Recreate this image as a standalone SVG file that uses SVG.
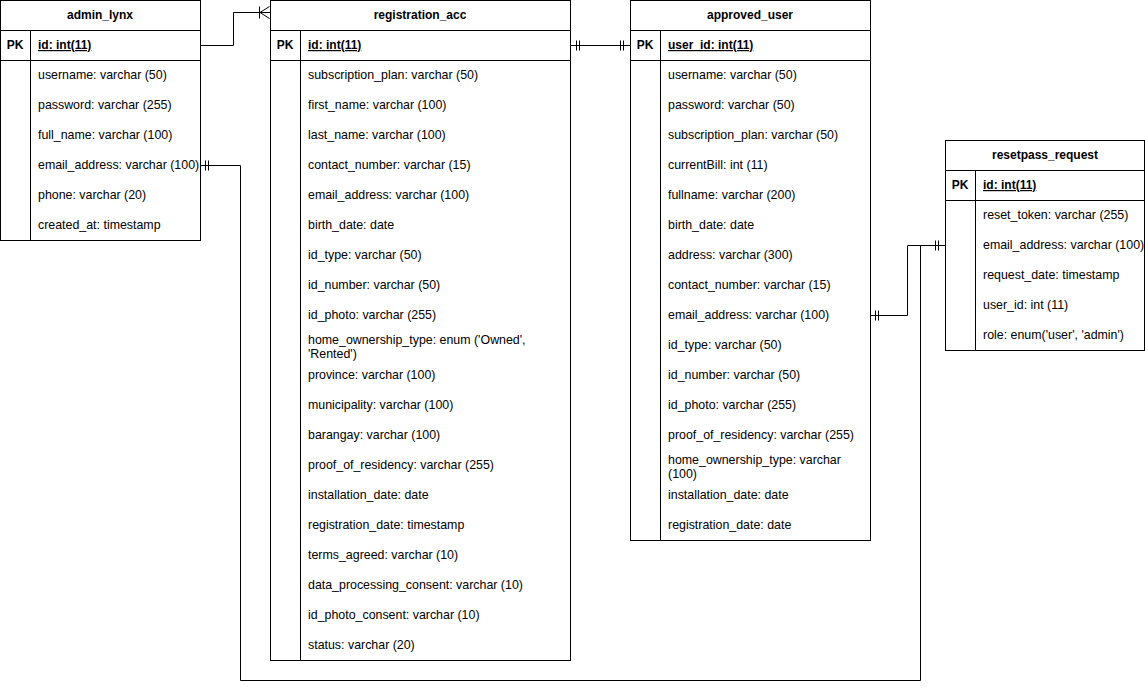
<svg xmlns="http://www.w3.org/2000/svg" width="1145" height="690" viewBox="0 0 1145 690">
<style>
.box{fill:#fff;stroke:#000;stroke-width:1}
.ln{stroke:#000;stroke-width:1;fill:none}
text{font-family:"Liberation Sans",Arial,Helvetica,sans-serif;font-size:12.4px;fill:#000}
.t{font-weight:bold;text-anchor:middle;font-size:12px}
.pk{font-weight:bold;text-anchor:middle;font-size:12px}
.id{font-weight:bold;text-decoration:underline;font-size:12px}
</style>
<rect x="0" y="0" width="1145" height="690" fill="#fff"/>
<g id="connectors" class="ln">
<path d="M200.5 45.5 H233.5 V12.5 H270"/>
<path d="M259.5 6.5 V18.5 M260 12.5 L269.5 6.5 M260 12.5 L269.5 18.5"/>
<path d="M570 45.5 H630"/>
<path d="M576.5 40.5 V50.5 M579.5 40.5 V50.5 M620.5 40.5 V50.5 M623.5 40.5 V50.5"/>
<path d="M200 165.5 H240.5 V680.5 H920.5 V245.5 H945"/>
<path d="M205.5 160.5 V170.5 M208.5 160.5 V170.5"/>
<path d="M870 315.5 H907.5 V245.5 H945"/>
<path d="M875.5 310.5 V320.5 M878.5 310.5 V320.5 M935.5 240.5 V250.5 M938.5 240.5 V250.5"/>
</g>
<g id="admin_lynx">
<rect class="box" x="0.5" y="0.5" width="200" height="240"/>
<path class="ln" d="M0.5 30.5 H200.5 M0.5 60.5 H200.5 M30.5 30.5 V240.5"/>
<text class="t" x="100" y="19">admin_lynx</text>
<text class="pk" x="15" y="49">PK</text>
<text class="id" x="38" y="49">id: int(11)</text>
<text x="38" y="79">username: varchar (50)</text>
<text x="38" y="109">password: varchar (255)</text>
<text x="38" y="139">full_name: varchar (100)</text>
<text x="38" y="169">email_address: varchar (100)</text>
<text x="38" y="199">phone: varchar (20)</text>
<text x="38" y="229">created_at: timestamp</text>
</g>
<g id="registration_acc">
<rect class="box" x="270.5" y="0.5" width="300" height="660"/>
<path class="ln" d="M270.5 30.5 H570.5 M270.5 60.5 H570.5 M300.5 30.5 V660.5"/>
<text class="t" x="420" y="19">registration_acc</text>
<text class="pk" x="285" y="49">PK</text>
<text class="id" x="308" y="49">id: int(11)</text>
<text x="308" y="79">subscription_plan: varchar (50)</text>
<text x="308" y="109">first_name: varchar (100)</text>
<text x="308" y="139">last_name: varchar (100)</text>
<text x="308" y="169">contact_number: varchar (15)</text>
<text x="308" y="199">email_address: varchar (100)</text>
<text x="308" y="229">birth_date: date</text>
<text x="308" y="259">id_type: varchar (50)</text>
<text x="308" y="289">id_number: varchar (50)</text>
<text x="308" y="319">id_photo: varchar (255)</text>
<text x="308" y="344">home_ownership_type: enum ('Owned',</text>
<text x="308" y="358">'Rented')</text>
<text x="308" y="379">province: varchar (100)</text>
<text x="308" y="409">municipality: varchar (100)</text>
<text x="308" y="439">barangay: varchar (100)</text>
<text x="308" y="469">proof_of_residency: varchar (255)</text>
<text x="308" y="499">installation_date: date</text>
<text x="308" y="529">registration_date: timestamp</text>
<text x="308" y="559">terms_agreed: varchar (10)</text>
<text x="308" y="589">data_processing_consent: varchar (10)</text>
<text x="308" y="619">id_photo_consent: varchar (10)</text>
<text x="308" y="649">status: varchar (20)</text>
</g>
<g id="approved_user">
<rect class="box" x="630.5" y="0.5" width="240" height="540"/>
<path class="ln" d="M630.5 30.5 H870.5 M630.5 60.5 H870.5 M660.5 30.5 V540.5"/>
<text class="t" x="750" y="19">approved_user</text>
<text class="pk" x="645" y="49">PK</text>
<text class="id" x="668" y="49">user_id: int(11)</text>
<text x="668" y="79">username: varchar (50)</text>
<text x="668" y="109">password: varchar (50)</text>
<text x="668" y="139">subscription_plan: varchar (50)</text>
<text x="668" y="169">currentBill: int (11)</text>
<text x="668" y="199">fullname: varchar (200)</text>
<text x="668" y="229">birth_date: date</text>
<text x="668" y="259">address: varchar (300)</text>
<text x="668" y="289">contact_number: varchar (15)</text>
<text x="668" y="319">email_address: varchar (100)</text>
<text x="668" y="349">id_type: varchar (50)</text>
<text x="668" y="379">id_number: varchar (50)</text>
<text x="668" y="409">id_photo: varchar (255)</text>
<text x="668" y="439">proof_of_residency: varchar (255)</text>
<text x="668" y="464">home_ownership_type: varchar</text>
<text x="668" y="478">(100)</text>
<text x="668" y="499">installation_date: date</text>
<text x="668" y="529">registration_date: date</text>
</g>
<g id="resetpass_request">
<rect class="box" x="945.5" y="140.5" width="199" height="210"/>
<path class="ln" d="M945.5 170.5 H1144.5 M945.5 200.5 H1144.5 M975.5 170.5 V350.5"/>
<text class="t" x="1045" y="159">resetpass_request</text>
<text class="pk" x="960" y="189">PK</text>
<text class="id" x="983" y="189">id: int(11)</text>
<text x="983" y="219">reset_token: varchar (255)</text>
<text x="983" y="249">email_address: varchar (100)</text>
<text x="983" y="279">request_date: timestamp</text>
<text x="983" y="309">user_id: int (11)</text>
<text x="983" y="339">role: enum('user', 'admin')</text>
</g>
</svg>
